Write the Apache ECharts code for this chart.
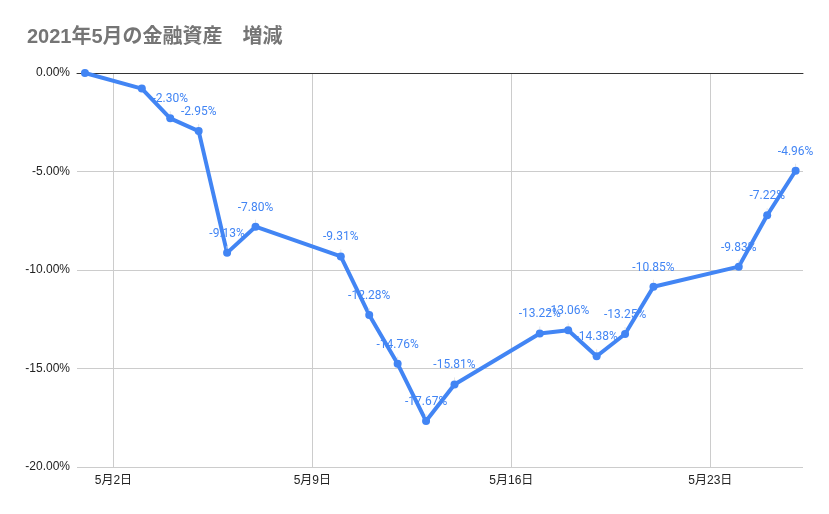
<!DOCTYPE html>
<html>
<head>
<meta charset="utf-8">
<script src="https://cdn.jsdelivr.net/npm/echarts@6/dist/echarts.min.js"></script>
<style>html,body{margin:0;padding:0;background:#fff}#c{width:829px;height:514px}</style>
</head>
<body>
<div id="c"></div>
<script>
// Day of May for each observation
const days = [1, 3, 4, 5, 6, 7, 10, 11, 12, 13, 14, 17, 18, 19, 20, 21, 24, 25, 26];
// Change in financial assets (%)
const values = [0.00, -0.79, -2.30, -2.95, -9.13, -7.80, -9.31, -12.28, -14.76, -17.67, -15.81, -13.22, -13.06, -14.38, -13.25, -10.85, -9.83, -7.22, -4.96];
// Days whose data label is not shown
const unlabeledDays = [1, 3];
// Tick labels
const xTickDays = [2, 9, 16, 23];
const yTicks = [0, -5, -10, -15, -20];

const seriesData = days.map((d, i) => {
  const item = { value: [d, values[i]] };
  if (unlabeledDays.includes(d)) item.label = { show: false };
  return item;
});

const chart = echarts.init(document.getElementById('c'), null, { renderer: 'canvas' });
const xMin = 0.72, xMax = 26.26;
chart.setOption({
  animation: false,
  backgroundColor: '#ffffff',
  title: {
    text: '2021年5月の金融資産　増減',
    left: 22, top: 22,
    textStyle: { fontFamily: '"Liberation Sans", Arial, "Noto Sans CJK JP"', fontSize: 20, fontWeight: 'bold', color: '#757575' }
  },
  grid: { left: 77, right: 26, top: 73, bottom: 47 },
  xAxis: [{
    type: 'value', min: xMin, max: xMax,
    axisLine: { show: false },
    axisTick: { show: false, customValues: xTickDays },
    axisLabel: {
      margin: 8, color: '#222', fontSize: 12, fontFamily: '"Liberation Sans", Arial, "Noto Sans CJK JP"',
      customValues: xTickDays,
      formatter: v => '5月' + v + '日'
    },
    splitLine: { show: true, lineStyle: { color: '#cccccc', width: 1 } }
  }, {
    type: 'value', position: 'top', min: xMin, max: xMax,
    axisLine: { show: true, onZero: false, lineStyle: { color: '#333333', width: 1 } },
    axisTick: { show: false }, axisLabel: { show: false }, splitLine: { show: false }
  }],
  yAxis: {
    type: 'value', min: yTicks[yTicks.length - 1], max: yTicks[0], interval: 5,
    axisLine: { show: false }, axisTick: { show: false },
    axisLabel: { margin: 7, color: '#222', fontSize: 12, fontFamily: '"Liberation Sans", Arial', formatter: v => v.toFixed(2) + '%' },
    splitLine: { lineStyle: { color: '#cccccc', width: 1 } }
  },
  series: [{
    type: 'line',
    data: seriesData,
    symbol: 'circle', symbolSize: 8,
    lineStyle: { color: '#4285F4', width: 4 },
    itemStyle: { color: '#4285F4' },
    label: {
      show: true, position: 'top', distance: 9,
      color: '#4285F4', fontSize: 12, fontFamily: 'Roboto, Arial',
      formatter: p => p.value[1].toFixed(2) + '%'
    },
    labelLine: { show: true, smooth: false, lineStyle: { color: '#e6e6e6', width: 1 } }
  }]
});
</script>
</body>
</html>
